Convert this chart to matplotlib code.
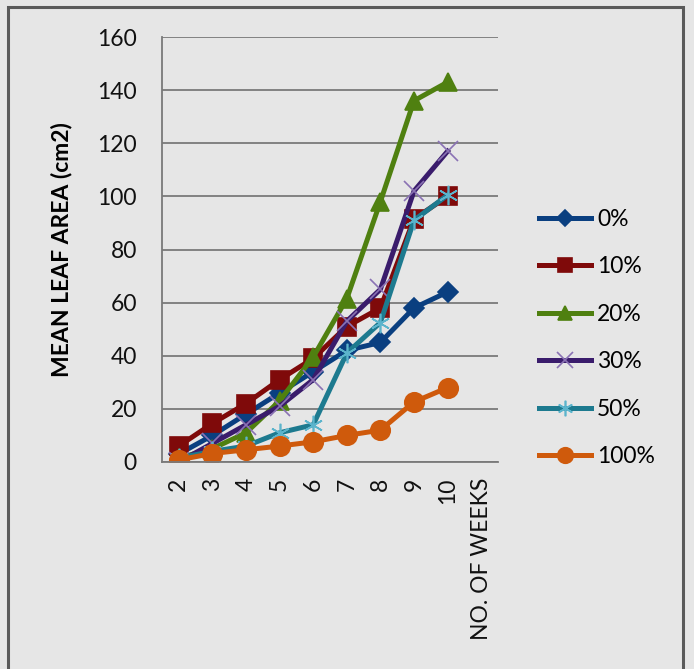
import matplotlib
matplotlib.use("Agg")
import matplotlib.pyplot as plt
from matplotlib.patches import Rectangle

plt.rcParams['font.family'] = ['Lato', 'DejaVu Sans']

# categories on the x axis (last one is the axis title placed as a category)
weeks = ['2', '3', '4', '5', '6', '7', '8', '9', '10', 'NO. OF WEEKS']

# mean leaf area per treatment, weeks 2..10
area_0 = [3, 10, 18, 26, 34, 42, 45, 58, 64]
area_10 = [6, 14.5, 22, 31, 39, 51, 58, 91.5, 100]
area_20 = [1.5, 5, 11, 23, 39.5, 61.5, 98, 136, 143]
area_30 = [0, 7, 14, 21, 31, 53, 65, 102, 117]
area_50 = [1.5, 4, 6, 11, 14, 41, 52.5, 91, 100.5]
area_100 = [0.8, 3.2, 4.6, 6, 7.6, 10, 12, 22.6, 28]

labels = ['0%', '10%', '20%', '30%', '50%', '100%']
series = [area_0, area_10, area_20, area_30, area_50, area_100]
colors = ['#0a3f80', '#7f0a0a', '#4f8010', '#3a1c6c', '#1d7a8f', '#cf5a0c']
mcolors = ['#0a3f80', '#7f0a0a', '#4f8010', '#8a72b4', '#5cb4cc', '#cf5a0c']
markers = ['D', 's', '^', 'x', (6, 2, 0), 'o']
msizes = [10, 13, 13, 14, 14, 14]

bg = '#e6e6e6'
fig = plt.figure(figsize=(6.94, 6.69), dpi=100, facecolor=bg)
ax = fig.add_axes([162 / 694, 1 - 462 / 669, (498 - 162) / 694, (462 - 37) / 669])
ax.set_facecolor(bg)

x = list(range(len(area_0)))
for vals, lab, c, mc, m, ms in zip(series, labels, colors, mcolors, markers, msizes):
    ax.plot(x, vals, color=c, lw=3.6, marker=m, markersize=ms,
            markerfacecolor=mc, markeredgecolor=mc, markeredgewidth=1.2, label=lab)

ax.set_xlim(-0.5, len(weeks) - 0.5)
ax.set_ylim(0, 160)
ax.set_yticks(range(0, 161, 20))
ax.set_xticks(range(len(weeks)))
ax.set_xticklabels(weeks, rotation=90, va='top')
ax.tick_params(axis='both', length=0, labelsize=16.5, colors='#111111')
ax.tick_params(axis='y', pad=18)
ax.tick_params(axis='x', pad=11)
ax.yaxis.grid(True, color='#7a7a7a', lw=1.3)
ax.set_axisbelow(True)
for s in ['top', 'right']:
    ax.spines[s].set_visible(False)
for s in ['left', 'bottom']:
    ax.spines[s].set_color('#7a7a7a')
    ax.spines[s].set_linewidth(1.3)

ax.set_ylabel('MEAN LEAF AREA (cm2)', fontsize=16.5, fontweight='bold')
ax.yaxis.set_label_coords((72 - 162) / 336, 0.5)

leg = ax.legend(loc='center left', bbox_to_anchor=(518 / 694, 1 - 338 / 669),
                bbox_transform=fig.transFigure, frameon=False, fontsize=16.5,
                labelspacing=1.15, handlelength=2.3, handletextpad=0.25,
                markerscale=0.8)

# chart border
fig.patches.append(Rectangle((8 / 694, -0.05), (683 - 8) / 694, 1.05 - 7 / 669,
                             transform=fig.transFigure, fill=False,
                             edgecolor='#5a5a5a', lw=2.2))

fig.savefig('out.png', dpi=100, facecolor=bg)
